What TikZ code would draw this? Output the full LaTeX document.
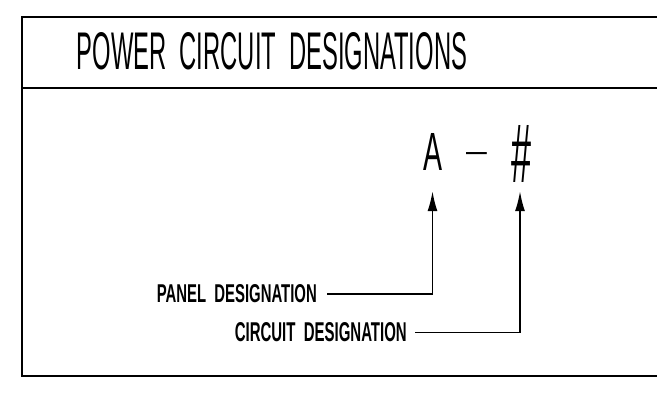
\documentclass[tikz,border=0pt]{standalone}
\usepackage{fontspec}
\setmainfont{Liberation Sans}
\usepackage{graphicx}
\usetikzlibrary{arrows.meta}
\newcommand{\wsp}{\hspace{0.55em}}
\begin{document}
\begin{tikzpicture}[x=1pt,y=-1pt,
  frame/.style={line width=1.4pt},
  lbl/.style={inner sep=0pt},
  leader/.style={line width=1.6pt,-{Latex[length=20pt,width=10pt]}}]
\useasboundingbox (0,0) rectangle (657,393);
% frame
\draw[frame] (657,17) -- (22,17) -- (22,376) -- (657,376);
\draw[frame] (22,88) -- (657,88);
% title
\node[lbl] (title) at (272,51.5) {\resizebox{390pt}{37pt}{POWER\wsp CIRCUIT\wsp DESIGNATIONS}};
% designation
\node[lbl] (A) at (432.5,151.5) {\resizebox{19pt}{37pt}{A}};
\node[lbl,anchor=base] (dash) at (476.5,162) {\scalebox{0.72}[0.6]{\fontsize{52pt}{52pt}\selectfont –}};
\node[lbl] (hash) at (521,153.5) {\resizebox{20pt}{57pt}{\#}};
% labels
\node[lbl,anchor=east] (panel) at (317,294) {\resizebox{160pt}{18pt}{\bfseries PANEL\wsp DESIGNATION}};
\node[lbl,anchor=east] (circuit) at (407,332.5) {\resizebox{172pt}{19pt}{\bfseries CIRCUIT\wsp DESIGNATION}};
% leaders
\draw[leader] ([xshift=10pt]panel.east) -| ([yshift=-21pt]A.south);
\draw[leader] ([xshift=8pt]circuit.east) -| ([xshift=-1pt,yshift=-9pt]hash.south);
\end{tikzpicture}
\end{document}
